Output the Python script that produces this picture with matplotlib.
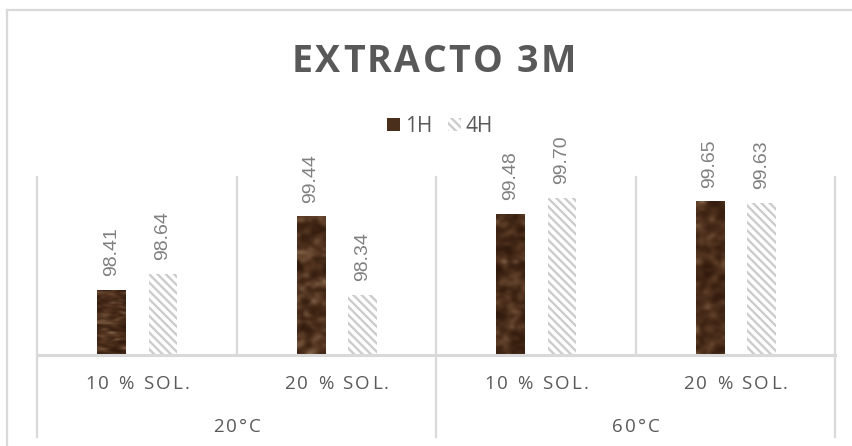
import numpy as np
import matplotlib
matplotlib.use("Agg")
import matplotlib.pyplot as plt
from matplotlib.patches import Rectangle
from matplotlib.lines import Line2D
from matplotlib.transforms import IdentityTransform, blended_transform_factory
from matplotlib.colors import LinearSegmentedColormap

# ---- data ----
title = "EXTRACTO 3M"
series_names = ["1H", "4H"]
sub_categories = ["10 % SOL.", "20 % SOL.", "10 % SOL.", "20 % SOL."]
groups = ["20°C", "60°C"]
values_1h = [98.41, 99.44, 99.48, 99.65]
values_4h = [98.64, 98.34, 99.70, 99.63]
y_min, y_max = 97.5, 100.0

W, H = 853, 446
plt.rcParams["hatch.linewidth"] = 1.7
fig = plt.figure(figsize=(W / 100, H / 100), dpi=100)
TXT = "#595959"
GRID = "#d9d9d9"
HATCH = "#cccccc"
UI_FONT = ["Open Sans", "DejaVu Sans"]


def px(x, y):
    """image pixel (top-left origin) -> figure fraction"""
    return x / W, 1 - y / H


ax = fig.add_axes([37.5 / W, 1 - 355 / H, (835.5 - 37.5) / W, (355 - 176.5) / H])
ax.axis("off")

renderer = fig.canvas.get_renderer()


def text_width(s, **kw):
    t = fig.text(0, 0, s, **kw)
    w = t.get_window_extent(renderer).width
    t.remove()
    return w


def tracked_text(cx, baseline_y, s, tracking, **kw):
    """Draw a string centred at cx (pixels) with extra letter spacing."""
    bar_w = text_width("|", **kw)
    starts = [text_width(s[:i] + "|", **kw) - bar_w if i else 0.0 for i in range(len(s))]
    total = text_width(s, **kw) + tracking * (len(s) - 1)
    x0 = cx - total / 2
    for i, ch in enumerate(s):
        if ch == " ":
            continue
        fig.text(x0 + starts[i] + i * tracking, H - baseline_y, ch,
                 transform=IdentityTransform(), ha="left", va="baseline", **kw)


# ---- bars ----
x = np.arange(len(sub_categories))
bw = 0.145
off = 0.129

bars_1h = ax.bar(x - off, values_1h, bw, color="#4b2f1d", linewidth=0, zorder=2)
bars_4h = ax.bar(x + off, values_4h, bw, color="white", edgecolor=HATCH,
                 hatch="\\\\\\\\", linewidth=0, zorder=2)

# mottled brown texture clipped to each 1H bar
rng = np.random.default_rng(11)
brown = LinearSegmentedColormap.from_list(
    "brown", ["#2b170a", "#3f2414", "#553621", "#735238", "#94775c"])


def blur(a, n=3):
    for _ in range(n):
        a = (a + np.roll(a, 1, 0) + np.roll(a, -1, 0) + np.roll(a, 1, 1) + np.roll(a, -1, 1)) / 5
    return a


for b in bars_1h:
    coarse = blur(rng.random((48, 8)), 1)
    fine = rng.random((48, 8))
    tex = coarse + 0.35 * fine
    tex = (tex - tex.min()) / (tex.max() - tex.min())
    tex = tex ** 1.5
    x0 = b.get_x()
    im = ax.imshow(tex, cmap=brown, extent=(x0, x0 + b.get_width(), y_min, b.get_height()),
                   aspect="auto", zorder=3, interpolation="bicubic")
    im.set_clip_path(b)
ax.set_xlim(-0.5, len(sub_categories) - 0.5)
ax.set_ylim(y_min, y_max)

# value labels
for bars, vals in ((bars_1h, values_1h), (bars_4h, values_4h)):
    for b, v in zip(bars, vals):
        ax.annotate(f"{v:.2f}", (b.get_x() + b.get_width() / 2, v), xytext=(0, 10),
                    textcoords="offset points", rotation=90, ha="center", va="bottom",
                    fontsize=14, color="#808080", family=["Liberation Sans", "DejaVu Sans"],
                    zorder=4)

# ---- grid / axis lines ----
tr = blended_transform_factory(ax.transData, fig.transFigure)
y_top = 1 - 176.5 / H
y_base = 1 - 355 / H
y_bot = 1 - 437 / H
for xb in [-0.5, 0.5, 1.5, 2.5, 3.5]:
    low = y_bot if xb in (-0.5, 1.5, 3.5) else y_base
    fig.add_artist(Line2D([xb, xb], [low, y_top], transform=tr, color=GRID, lw=1.6, zorder=1))
fig.add_artist(Line2D([-0.5, 3.5], [y_base, y_base], transform=tr, color=GRID, lw=2.2, zorder=1))

# outer chart frame (top and left edges)
fig.add_artist(Line2D([7 / W, 1], [1 - 10 / H, 1 - 10 / H], transform=fig.transFigure,
                      color=GRID, lw=1.6))
fig.add_artist(Line2D([7 / W, 7 / W], [0, 1 - 10 / H], transform=fig.transFigure,
                      color=GRID, lw=1.6))

# ---- category labels (two levels) ----
for i, lab in enumerate(sub_categories):
    cx = 37.5 + (i + 0.5) * 199.5
    tracked_text(cx, 389, lab, 2.3, fontsize=13.5, color=TXT, family=UI_FONT)
for g, lab in enumerate(groups):
    cx = 37.5 + (2 * g + 1) * 199.5
    tracked_text(cx, 432, lab, 2.3, fontsize=13.5, color=TXT, family=UI_FONT)

# ---- title ----
tracked_text(434, 72, title, 2.6, fontsize=27, fontweight="bold", color=TXT, family=UI_FONT)

# ---- legend ----
sq = Rectangle(px(387, 131), 13 / W, 13 / H, transform=fig.transFigure,
               facecolor="#4b2f1d", linewidth=0)
fig.add_artist(sq)
sq2 = Rectangle(px(448, 131), 13 / W, 13 / H, transform=fig.transFigure,
                facecolor="white", edgecolor=HATCH, hatch="\\\\\\\\", linewidth=0)
fig.add_artist(sq2)
for tx, name in zip([405, 466], series_names):
    fig.text(*px(tx, 132), name, ha="left", va="baseline", fontsize=15, color=TXT,
             family=UI_FONT)

fig.savefig("out.png", dpi=100)
